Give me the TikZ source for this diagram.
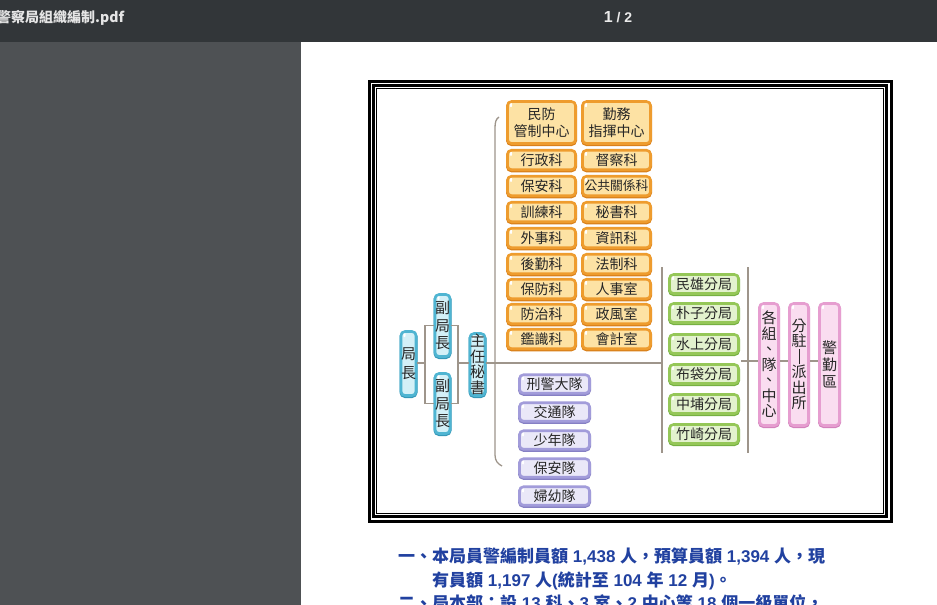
\documentclass[tikz,border=0pt]{standalone}
\usepackage{fontspec}
\setmainfont{Liberation Sans}
\newfontfamily\cjk{Noto Sans CJK TC}
\usetikzlibrary{calc}
\definecolor{barc}{HTML}{323639}
\definecolor{panelc}{HTML}{4E5154}
\definecolor{linec}{HTML}{9E958B}
\definecolor{orfill}{HTML}{FDE2A4}
\definecolor{ordraw}{HTML}{EE9C2E}
\definecolor{orshad}{HTML}{D9801A}
\definecolor{bufill}{HTML}{D3F0F7}
\definecolor{budraw}{HTML}{4FB5D2}
\definecolor{bushad}{HTML}{3598B8}
\definecolor{pufill}{HTML}{EAE8F8}
\definecolor{pudraw}{HTML}{A29CDA}
\definecolor{pushad}{HTML}{8680C4}
\definecolor{grfill}{HTML}{E3F2CE}
\definecolor{grdraw}{HTML}{95C758}
\definecolor{grshad}{HTML}{76B042}
\definecolor{pkfill}{HTML}{FADDF0}
\definecolor{pkdraw}{HTML}{E69ED0}
\definecolor{pkshad}{HTML}{D382BC}
\definecolor{txtblue}{HTML}{2141A0}
\tikzset{
  conn/.style={draw=linec, line width=1.3pt},
  basebox/.style={rounded corners=4pt, line width=2.6pt, inner sep=0pt, align=center,
    text=black!85, font=\cjk\fontsize{14}{16.5}\selectfont,
    path picture={\fill[white] ([shift={(3.5pt,-3.5pt)}]path picture bounding box.north west) ellipse (1.1pt and 2.2pt);}},
  obox/.style={basebox, draw=ordraw, fill=orfill, preaction={draw=orshad, line width=3pt, transform canvas={yshift=-1pt}}, minimum width=68pt, minimum height=19.5pt},
  bbox/.style={basebox, draw=budraw, fill=bufill, preaction={draw=bushad, line width=3pt, transform canvas={yshift=-1pt}}, minimum width=15pt, font=\cjk\fontsize{15}{17.5}\selectfont},
  ubox/.style={basebox, draw=pudraw, fill=pufill, preaction={draw=pushad, line width=3pt, transform canvas={yshift=-1pt}}, minimum width=70pt, minimum height=18.5pt},
  gbox/.style={basebox, draw=grdraw, fill=grfill, preaction={draw=grshad, line width=3pt, transform canvas={yshift=-1pt}}, minimum width=69pt, minimum height=19pt},
  kbox/.style={basebox, draw=pkdraw, fill=pkfill, preaction={draw=pkshad, line width=3pt, transform canvas={yshift=-1pt}}, minimum width=19pt, minimum height=122pt, font=\cjk\fontsize{15}{15.5}\selectfont},
  frameline/.style={draw=black},
  bodytext/.style={anchor=base west, inner sep=0pt, text=txtblue, font=\bfseries\fontsize{17}{20}\selectfont},
}
\begin{document}
\begin{tikzpicture}[x=1pt,y=-1pt]
\useasboundingbox (0,0) rectangle (937,605);
\clip (0,0) rectangle (937,605);
% viewer chrome
\fill[barc] (0,0) rectangle (937,42);
\fill[panelc] (0,42) rectangle (301,605);
\fill[white] (301,42) rectangle (937,605);
\node[anchor=west, inner sep=0pt, text=white!90!black, font=\cjk\bfseries\fontsize{14}{16}\selectfont] (title) at (-3,18) {警察局組織編制.pdf};
\node[inner sep=0pt, text=white!92!black, font=\bfseries\fontsize{14}{16}\selectfont] (pg) at (618,17) {{\fontsize{16}{16}\selectfont 1} / 2};
% frame
\draw[frameline, line width=3pt] (369.5,81.5) rectangle (891.5,521.5);
\draw[frameline, line width=3pt] (373.5,85.5) rectangle (886.5,516.5);
\draw[frameline, line width=1pt] (376.5,88.5) rectangle (883.5,513.5);
% orange column 1
\node[obox, minimum height=42pt] (o0) at (541.5,122.5) {民防\\管制中心};
\node[obox] (o1) at (541.5,160) {行政科};
\node[obox] (o2) at (541.5,186) {保安科};
\node[obox] (o3) at (541.5,212) {訓練科};
\node[obox] (o4) at (541.5,238) {外事科};
\node[obox] (o5) at (541.5,264) {後勤科};
\node[obox] (o6) at (541.5,289) {保防科};
\node[obox] (o7) at (541.5,314) {防治科};
\node[obox] (o8) at (541.5,339) {鑑識科};
% orange column 2
\node[obox, minimum height=42pt] (p0) at (616.5,122.5) {勤務\\指揮中心};
\node[obox] (p1) at (616.5,160) {督察科};
\node[obox, font=\cjk\fontsize{12.8}{16}\selectfont] (p2) at (616.5,186) {公共關係科};
\node[obox] (p3) at (616.5,212) {秘書科};
\node[obox] (p4) at (616.5,238) {資訊科};
\node[obox] (p5) at (616.5,264) {法制科};
\node[obox] (p6) at (616.5,289) {人事室};
\node[obox] (p7) at (616.5,314) {政風室};
\node[obox] (p8) at (616.5,339) {會計室};
% purple
\node[ubox] (u1) at (554.5,384) {刑警大隊};
\node[ubox] (u2) at (554.5,412) {交通隊};
\node[ubox] (u3) at (554.5,440) {少年隊};
\node[ubox] (u4) at (554.5,468) {保安隊};
\node[ubox] (u5) at (554.5,496) {婦幼隊};
% green
\node[gbox] (g1) at (704,284) {民雄分局};
\node[gbox] (g2) at (704,313) {朴子分局};
\node[gbox] (g3) at (704,344) {水上分局};
\node[gbox] (g4) at (704,374) {布袋分局};
\node[gbox] (g5) at (704,404) {中埔分局};
\node[gbox] (g6) at (704,434) {竹崎分局};
% pink
\node[kbox] (k1) at (769,364.5) {各\\組\\、\\隊\\、\\中\\心};
\node[kbox] (k2) at (799,364.5) {分\\駐\\\rule[-2pt]{1pt}{15pt}\\派\\出\\所};
\node[kbox, minimum width=20pt, font=\cjk\fontsize{15}{17}\selectfont] (k3) at (829.5,364.5) {警\\勤\\區};
% blue
\node[bbox, minimum width=14pt, minimum height=64pt, font=\cjk\fontsize{15}{19.5}\selectfont] (jz) at (408.5,363.5) {局\\長};
\node[bbox, minimum height=62pt] (f1) at (442.5,325.5) {副\\局\\長};
\node[bbox, minimum height=60pt] (f2) at (442.5,403.5) {副\\局\\長};
\node[bbox, minimum height=62pt, font=\cjk\fontsize{15}{15.5}\selectfont] (zm) at (477.5,364.5) {主\\任\\秘\\書};
% connectors
\coordinate (bl) at (425,363);
\coordinate (brr) at (458,363);
\draw[conn] (jz.east |- bl) -- (bl);
\draw[conn] (f1.west) -| (bl);
\draw[conn] (f2.west) -| (bl);
\draw[conn] (f1.east) -| (brr);
\draw[conn] (f2.east) -| (brr);
\draw[conn] (brr) -- (brr -| zm.west);
\coordinate (gl) at (662,363);
\draw[conn] (zm.east |- gl) -- (gl);
\coordinate (bt) at (499,117);
\coordinate (bb) at (502,466);
\draw[conn] (bt) .. controls (496,119) and (495,122) .. (495,128) -- (495,455) .. controls (495,461) and (498,464) .. (bb);
\coordinate (gt) at (662,267);
\coordinate (gb) at (662,453);
\draw[conn] (gt) -- (gb);
\coordinate (rt) at (748,267);
\coordinate (rb) at (748,453);
\draw[conn] (rt) -- (rb);
\coordinate (gr) at (741,361);
\draw[conn] (gr) -- (gr -| k1.west);
\draw[conn] (k1.east |- gr) -- (k2.west |- gr);
\draw[conn] (k2.east |- gr) -- (k3.west |- gr);
% body text
\node[bodytext] (t1) at (398,562) {{\cjk 一、本局員警編制員額} 1,438 {\cjk 人，預算員額} 1,394 {\cjk 人，現}};
\node[bodytext] (t2) at (432,586) {{\cjk 有員額} 1,197 {\cjk 人}({\cjk 統計至} 104 {\cjk 年} 12 {\cjk 月}){\cjk 。}};
\node[bodytext] (t3) at (398,609.5) {{\cjk 二、局本部：設} 13 {\cjk 科、}3 {\cjk 室、}2 {\cjk 中心等} 18 {\cjk 個一級單位，}};
\end{tikzpicture}
\end{document}
